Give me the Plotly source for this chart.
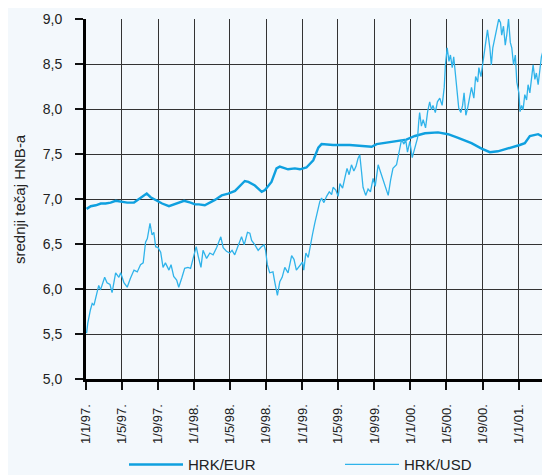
import plotly.graph_objects as go

# ---------------- data ----------------
eur_dates = [
    "1997-01-03", "1997-01-17", "1997-02-03", "1997-02-20", "1997-03-08", "1997-03-25",
    "1997-04-11", "1997-04-28", "1997-05-20", "1997-06-12", "1997-06-29", "1997-07-16",
    "1997-07-25", "1997-08-07", "1997-08-24", "1997-09-15", "1997-10-08", "1997-10-31",
    "1997-11-28", "1997-12-20", "1998-01-04", "1998-01-17", "1998-02-06", "1998-03-12",
    "1998-04-04", "1998-04-26", "1998-05-19", "1998-06-21", "1998-07-03", "1998-07-25",
    "1998-08-17", "1998-08-28", "1998-09-19", "1998-10-06", "1998-10-17", "1998-11-14",
    "1998-12-07", "1998-12-24", "1999-01-15", "1999-02-07", "1999-02-24", "1999-03-07",
    "1999-04-15", "1999-06-10", "1999-08-23", "1999-09-09", "1999-11-03", "1999-12-18",
    "2000-01-16", "2000-02-19", "2000-04-03", "2000-05-07", "2000-06-10", "2000-07-25",
    "2000-08-28", "2000-09-25", "2000-10-22", "2000-11-25", "2001-01-04", "2001-01-21",
    "2001-02-07", "2001-03-07", "2001-03-29", "2001-04-15",
]
eur_values = [
    6.89, 6.92, 6.93, 6.95, 6.95, 6.96,
    6.98, 6.97, 6.96, 6.96, 7.00, 7.04,
    7.06, 7.02, 6.99, 6.95, 6.92, 6.95,
    6.98, 6.96, 6.94, 6.94, 6.93, 6.99,
    7.04, 7.06, 7.09, 7.20, 7.19, 7.15,
    7.08, 7.10, 7.19, 7.34, 7.36, 7.33,
    7.34, 7.33, 7.35, 7.43, 7.57, 7.61,
    7.60, 7.60, 7.58, 7.61, 7.64, 7.66,
    7.70, 7.73, 7.74, 7.72, 7.68, 7.62,
    7.56, 7.52, 7.53, 7.56, 7.60, 7.62,
    7.70, 7.72, 7.68, 7.66,
]

usd_dates = [
    "1997-01-03", "1997-01-07", "1997-01-16", "1997-01-22", "1997-01-28", "1997-02-02",
    "1997-02-13", "1997-02-19", "1997-03-05", "1997-03-13", "1997-03-23", "1997-03-30",
    "1997-04-11", "1997-04-22", "1997-04-28", "1997-05-09", "1997-05-20", "1997-05-31",
    "1997-06-12", "1997-06-23", "1997-07-04", "1997-07-13", "1997-07-21", "1997-07-27",
    "1997-08-05", "1997-08-12", "1997-08-18", "1997-08-24", "1997-09-01", "1997-09-10",
    "1997-09-18", "1997-09-26", "1997-10-08", "1997-10-15", "1997-10-24", "1997-11-03",
    "1997-11-10", "1997-11-21", "1997-11-30", "1997-12-11", "1997-12-20", "1997-12-31",
    "1998-01-08", "1998-01-15", "1998-01-24", "1998-01-31", "1998-02-12", "1998-02-23",
    "1998-03-06", "1998-03-18", "1998-04-01", "1998-04-09", "1998-04-20", "1998-05-01",
    "1998-05-09", "1998-05-18", "1998-05-29", "1998-06-10", "1998-06-19", "1998-06-30",
    "1998-07-08", "1998-07-14", "1998-07-25", "1998-08-05", "1998-08-16", "1998-08-25",
    "1998-08-30", "1998-09-05", "1998-09-13", "1998-09-24", "1998-09-30", "1998-10-09",
    "1998-10-17", "1998-10-25", "1998-11-03", "1998-11-14", "1998-11-26", "1998-12-04",
    "1998-12-12", "1998-12-24", "1999-01-02", "1999-01-06", "1999-01-13", "1999-01-21",
    "1999-01-29", "1999-02-04", "1999-02-12", "1999-02-20", "1999-03-01", "1999-03-07",
    "1999-03-15", "1999-03-24", "1999-04-02", "1999-04-10", "1999-04-15", "1999-04-24",
    "1999-05-02", "1999-05-08", "1999-05-17", "1999-05-25", "1999-06-01", "1999-06-08",
    "1999-06-16", "1999-06-24", "1999-07-01", "1999-07-08", "1999-07-14", "1999-07-20",
    "1999-07-25", "1999-08-03", "1999-08-11", "1999-08-19", "1999-08-28", "1999-09-04",
    "1999-09-14", "1999-09-22", "1999-10-01", "1999-10-10", "1999-10-18", "1999-10-26",
    "1999-11-03", "1999-11-15", "1999-11-24", "1999-12-02", "1999-12-10", "1999-12-16",
    "1999-12-22", "1999-12-30", "2000-01-07", "2000-01-16", "2000-01-25", "2000-01-29",
    "2000-02-01", "2000-02-07", "2000-02-13", "2000-02-21", "2000-02-28", "2000-03-06",
    "2000-03-12", "2000-03-17", "2000-03-25", "2000-04-01", "2000-04-09", "2000-04-17",
    "2000-04-24", "2000-04-28", "2000-05-04", "2000-05-10", "2000-05-15", "2000-05-21",
    "2000-05-26", "2000-06-01", "2000-06-06", "2000-06-12", "2000-06-19", "2000-06-25",
    "2000-06-30", "2000-07-06", "2000-07-12", "2000-07-20", "2000-07-25", "2000-08-02",
    "2000-08-08", "2000-08-15", "2000-08-19", "2000-08-26", "2000-08-31", "2000-09-05",
    "2000-09-11", "2000-09-17", "2000-09-25", "2000-09-30", "2000-10-05", "2000-10-11",
    "2000-10-20", "2000-10-25", "2000-10-31", "2000-11-04", "2000-11-10", "2000-11-16",
    "2000-11-21", "2000-11-27", "2000-12-03", "2000-12-08", "2000-12-14", "2000-12-20",
    "2000-12-25", "2001-01-01", "2001-01-05", "2001-01-10", "2001-01-15", "2001-01-21",
    "2001-01-27", "2001-02-01", "2001-02-07", "2001-02-12", "2001-02-18", "2001-02-24",
    "2001-03-01", "2001-03-07", "2001-03-13", "2001-03-18", "2001-03-24", "2001-03-29",
    "2001-04-04", "2001-04-09", "2001-04-15",
]
usd_values = [
    5.51, 5.62, 5.77, 5.84, 5.82, 5.90,
    6.04, 5.99, 6.13, 6.07, 6.05, 5.96,
    6.18, 6.13, 6.18, 6.07, 6.02, 6.12,
    6.21, 6.19, 6.27, 6.29, 6.52, 6.56,
    6.73, 6.60, 6.63, 6.47, 6.46, 6.41,
    6.24, 6.29, 6.21, 6.27, 6.14, 6.10,
    6.02, 6.13, 6.23, 6.24, 6.23, 6.37,
    6.47, 6.36, 6.24, 6.43, 6.34, 6.40,
    6.38, 6.46, 6.58, 6.46, 6.42, 6.40,
    6.43, 6.38, 6.47, 6.58, 6.49, 6.63,
    6.62, 6.54, 6.49, 6.43, 6.47, 6.49,
    6.43, 6.27, 6.18, 6.19, 6.08, 5.93,
    6.08, 6.13, 6.24, 6.18, 6.37, 6.33,
    6.21, 6.27, 6.30, 6.21, 6.40, 6.35,
    6.51, 6.60, 6.73, 6.86, 6.97, 7.01,
    6.96, 7.03, 7.08, 7.05, 7.13, 7.10,
    7.03, 7.17, 7.12, 7.24, 7.34, 7.27,
    7.38, 7.31, 7.36, 7.45, 7.49, 7.30,
    7.13, 7.04, 7.11, 7.08, 7.23, 7.14,
    7.38, 7.30, 7.21, 7.13, 7.04, 7.21,
    7.34, 7.38, 7.52, 7.66, 7.61, 7.66,
    7.52, 7.64, 7.46, 7.57, 7.68, 7.86,
    7.96, 7.81, 7.88, 7.79, 7.97, 8.08,
    7.99, 8.04, 7.96, 8.08, 8.12, 8.04,
    8.24, 8.49, 8.68, 8.53, 8.60, 8.46,
    8.58, 8.38, 8.19, 8.01, 7.96, 8.04,
    8.18, 7.93, 8.01, 8.16, 8.24, 8.12,
    8.36, 8.30, 8.46, 8.36, 8.49, 8.63,
    8.79, 8.88, 8.68, 8.49, 8.68, 8.77,
    8.90, 9.00, 8.96, 8.82, 8.92, 8.71,
    8.82, 9.00, 8.74, 8.68, 8.49, 8.60,
    8.30, 8.18, 7.97, 8.04, 7.99, 8.16,
    8.10, 8.27, 8.18, 8.36, 8.49, 8.33,
    8.40, 8.27, 8.46, 8.58, 8.65, 8.72,
    8.56, 8.51, 8.49,
]

tick_dates = [
    "1997-01-01", "1997-05-01", "1997-09-01", "1998-01-01", "1998-05-01", "1998-09-01",
    "1999-01-01", "1999-05-01", "1999-09-01", "2000-01-01", "2000-05-01", "2000-09-01",
    "2001-01-01",
]
tick_labels = [
    "1/1/97.", "1/5/97.", "1/9/97.", "1/1/98.", "1/5/98.", "1/9/98.",
    "1/1/99.", "1/5/99.", "1/9/99.", "1/1/00.", "1/5/00.", "1/9/00.",
    "1/1/01.",
]
y_ticks = [5.0, 5.5, 6.0, 6.5, 7.0, 7.5, 8.0, 8.5, 9.0]
y_tick_labels = ["5,0", "5,5", "6,0", "6,5", "7,0", "7,5", "8,0", "8,5", "9,0"]

# ---------------- figure ----------------
FONT = "Liberation Sans, Arial, Helvetica, sans-serif"
BG = "#F3F8FC"
# the page body adds an 8px offset, so the figure is sized to end at the window edge
W, H = 542, 467
ML, MT, PW, PH = 78, 11, 464, 360

fig = go.Figure()
fig.add_trace(go.Scatter(
    x=eur_dates, y=eur_values, mode="lines", name="HRK/EUR",
    line=dict(color="#0FA0DF", width=2.4), legend="legend",
))
fig.add_trace(go.Scatter(
    x=usd_dates, y=usd_values, mode="lines", name="HRK/USD",
    line=dict(color="#2FB3EA", width=1.3), legend="legend2",
))

legend_common = dict(
    orientation="h", xanchor="left", y=-0.238, yanchor="middle",
    font=dict(size=15, color="#222222", family=FONT), bgcolor="rgba(0,0,0,0)",
    itemwidth=54,
)

fig.update_layout(
    width=W, height=H,
    margin=dict(l=ML, r=W - ML - PW, t=MT, b=H - MT - PH, autoexpand=False),
    paper_bgcolor=BG, plot_bgcolor=BG,
    font=dict(family=FONT, size=13, color="#222222"),
    showlegend=True,
    legend=dict(x=(116 - ML) / PW, **legend_common),
    legend2=dict(x=(332 - ML) / PW, **legend_common),
)

fig.update_xaxes(
    type="date",
    range=["1997-01-01", "2001-04-16"],
    tickmode="array", tickvals=tick_dates, ticktext=tick_labels,
    tickangle=-90,
    tickfont=dict(size=13, color="#222222"),
    ticks="outside", ticklen=8, tickwidth=1.5, tickcolor="#111111",
    ticklabelstandoff=9,
    showgrid=True, gridcolor="#333333", gridwidth=1.4,
    showline=True, linecolor="#000000", linewidth=3,
    zeroline=False, fixedrange=True, automargin=False,
)
fig.update_yaxes(
    range=[5, 9],
    tickmode="array", tickvals=y_ticks, ticktext=y_tick_labels,
    tickfont=dict(size=14, color="#222222"),
    ticks="outside", ticklen=8, tickwidth=1.5, tickcolor="#111111",
    ticklabelstandoff=10,
    showgrid=True, gridcolor="#333333", gridwidth=1.4,
    showline=True, linecolor="#000000", linewidth=3,
    zeroline=False, fixedrange=True, automargin=False,
)

fig.add_annotation(
    text="srednji tečaj HNB-a", textangle=-90,
    xref="paper", yref="paper", x=(11 - ML) / PW, y=0.5,
    xanchor="center", yanchor="middle", showarrow=False,
    font=dict(size=15, color="#222222", family=FONT),
)

fig.write_html("out.html")
